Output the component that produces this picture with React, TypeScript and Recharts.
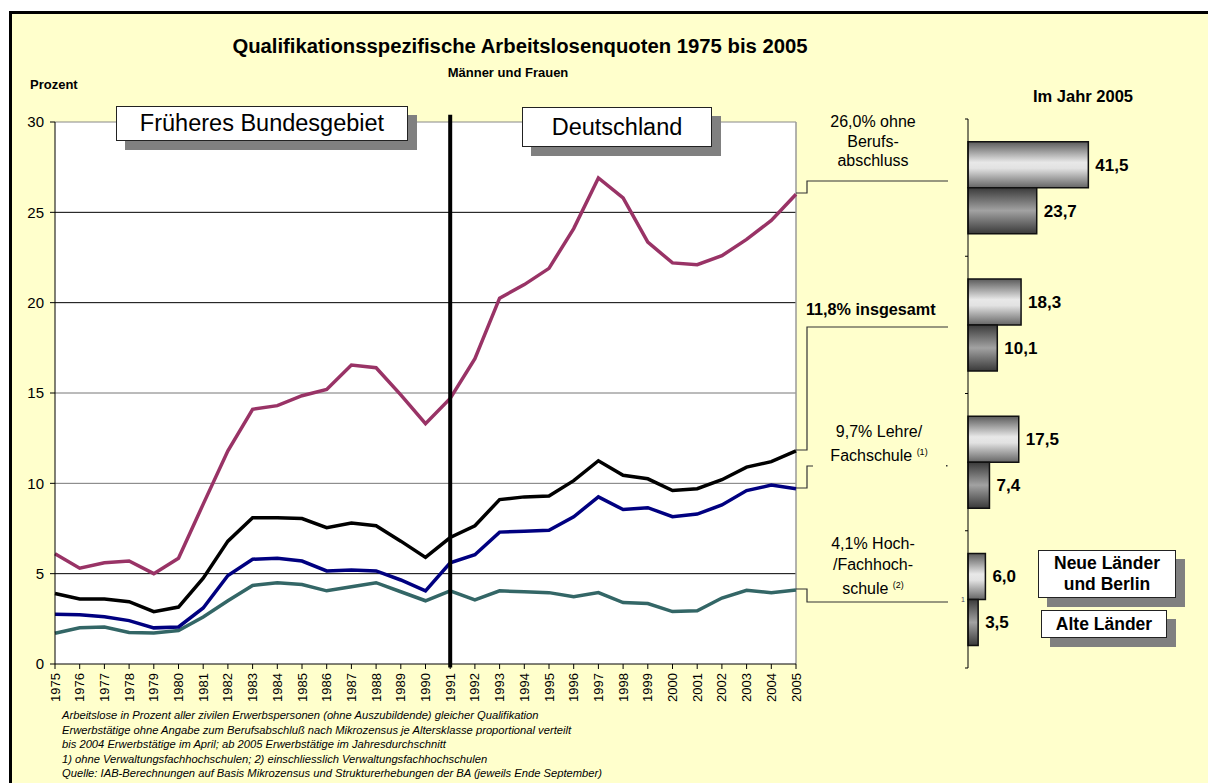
import React from "react";
import {
  LineChart,
  Line,
  XAxis,
  YAxis,
  ReferenceLine,
  ReferenceArea,
  BarChart,
  Bar,
  LabelList,
} from "recharts";

const years = [
  1975, 1976, 1977, 1978, 1979, 1980, 1981, 1982, 1983, 1984, 1985, 1986, 1987, 1988, 1989, 1990,
  1991, 1992, 1993, 1994, 1995, 1996, 1997, 1998, 1999, 2000, 2001, 2002, 2003, 2004, 2005,
];
const ohneAbschluss = [
  6.1, 5.3, 5.6, 5.7, 5.0, 5.85, 8.85, 11.8, 14.1, 14.3, 14.85, 15.2, 16.55, 16.4, 14.9, 13.3,
  14.7, 16.9, 20.25, 21.0, 21.9, 24.1, 26.9, 25.8, 23.35, 22.2, 22.1, 22.6, 23.5, 24.55, 26.0,
];
const insgesamt = [
  3.9, 3.6, 3.6, 3.45, 2.9, 3.15, 4.75, 6.8, 8.1, 8.1, 8.05, 7.55, 7.8, 7.65, 6.8, 5.9,
  7.0, 7.65, 9.1, 9.25, 9.3, 10.15, 11.25, 10.45, 10.25, 9.6, 9.7, 10.2, 10.9, 11.2, 11.8,
];
const lehreFachschule = [
  2.75, 2.72, 2.62, 2.4, 2.0, 2.05, 3.1, 4.9, 5.8, 5.85, 5.7, 5.15, 5.2, 5.15, 4.65, 4.05,
  5.6, 6.05, 7.3, 7.35, 7.4, 8.15, 9.25, 8.55, 8.65, 8.15, 8.3, 8.8, 9.6, 9.9, 9.7,
];
const hochschule = [
  1.7, 2.0, 2.05, 1.75, 1.72, 1.85, 2.6, 3.5, 4.35, 4.5, 4.4, 4.05, 4.28, 4.5, 4.0, 3.5,
  4.05, 3.55, 4.05, 4.0, 3.95, 3.72, 3.95, 3.4, 3.35, 2.9, 2.95, 3.65, 4.08, 3.95, 4.1,
];
const yTicks = [0, 5, 10, 15, 20, 25, 30];

const barGroups = ["ohne Berufsabschluss", "insgesamt", "Lehre/Fachschule", "Hoch-/Fachhochschule"];
const neueLaender = [41.5, 18.3, 17.5, 6.0];
const alteLaender = [23.7, 10.1, 7.4, 3.5];

const footnotes = [
  "Arbeitslose in Prozent aller zivilen Erwerbspersonen (ohne Auszubildende) gleicher Qualifikation",
  "Erwerbstätige ohne Angabe zum Berufsabschluß nach Mikrozensus je Altersklasse proportional verteilt",
  "bis 2004 Erwerbstätige im April; ab 2005 Erwerbstätige im Jahresdurchschnitt",
  "1) ohne Verwaltungsfachhochschulen; 2) einschliesslich Verwaltungsfachhochschulen",
  "Quelle: IAB-Berechnungen auf Basis Mikrozensus und Strukturerhebungen der BA (jeweils Ende September)",
];

const arial = "Arial, 'Liberation Sans', sans-serif";
const narrow = "'Liberation Sans Narrow', 'Arial Narrow', Arial, sans-serif";

const lineData = years.map((year, i) => ({
  year,
  ohne: ohneAbschluss[i],
  gesamt: insgesamt[i],
  lehre: lehreFachschule[i],
  hoch: hochschule[i],
}));

const barData = barGroups.map((group, i) => ({
  group,
  neu: neueLaender[i],
  alt: alteLaender[i],
}));

const fmt = (v: any) => Number(v).toFixed(1).replace(".", ",");

const gridColor: Record<number, string> = {
  5: "#000",
  10: "#777",
  15: "#777",
  20: "#000",
  25: "#000",
  30: "#888",
};

function YearTick(props: any) {
  const { x, y, payload } = props;
  return (
    <g transform={`translate(${x},${y})`}>
      <text
        transform="rotate(-90)"
        textAnchor="end"
        dy={4.5}
        fontSize={13}
        fontFamily={arial}
        fill="#000"
      >
        {payload.value}
      </text>
    </g>
  );
}

const BAR_PLOT_H = 549;

function BoundaryTick(props: any) {
  const { y, index } = props;
  const half = BAR_PLOT_H / barGroups.length / 2;
  const ax = 68;
  return (
    <g>
      <line x1={ax - 3} x2={ax} y1={y - half} y2={y - half} stroke="#000" />
      {index === barGroups.length - 1 && (
        <line x1={ax - 3} x2={ax} y1={y + half} y2={y + half} stroke="#000" />
      )}
    </g>
  );
}

function ShadowBox({ left, top, w, h, children, font, size, weight }: any) {
  return (
    <>
      <div
        style={{
          position: "absolute",
          left: left + 9,
          top: top + 9,
          width: w,
          height: h,
          background: "#808080",
        }}
      />
      <div
        style={{
          position: "absolute",
          left,
          top,
          width: w,
          height: h,
          boxSizing: "border-box",
          background: "#fff",
          border: "1.5px solid #222",
          display: "flex",
          alignItems: "center",
          justifyContent: "center",
          textAlign: "center",
          fontFamily: font,
          fontSize: size,
          fontWeight: weight,
          lineHeight: 1.2,
          color: "#000",
        }}
      >
        {children}
      </div>
    </>
  );
}

function Txt({ left, top, width, children, style }: any) {
  return (
    <div
      style={{
        position: "absolute",
        left,
        top,
        width,
        textAlign: "center",
        whiteSpace: "nowrap",
        color: "#000",
        ...style,
      }}
    >
      {children}
    </div>
  );
}

export default function App() {
  return (
    <div
      style={{
        position: "absolute",
        left: 0,
        top: 0,
        width: 1208,
        height: 783,
        overflow: "hidden",
        background: "#fff",
      }}
    >
      <div
        style={{
          position: "absolute",
          left: 9,
          top: 11,
          width: 1220,
          height: 800,
          background: "#FFFFCC",
          borderLeft: "3px solid #000",
          borderTop: "3px solid #000",
        }}
      />

      <Txt left={150} top={35} width={740} style={{ fontFamily: narrow, fontWeight: 700, fontSize: 20.3 }}>
        Qualifikationsspezifische Arbeitslosenquoten 1975 bis 2005
      </Txt>
      <Txt left={400} top={65} width={216} style={{ fontFamily: narrow, fontWeight: 700, fontSize: 13 }}>
        Männer und Frauen
      </Txt>
      <div style={{ position: "absolute", left: 30, top: 77, fontFamily: narrow, fontWeight: 700, fontSize: 13 }}>
        Prozent
      </div>
      <Txt left={1000} top={87} width={166} style={{ fontFamily: narrow, fontWeight: 700, fontSize: 16.5 }}>
        Im Jahr 2005
      </Txt>

      <div style={{ position: "absolute", left: 0, top: 0 }}>
        <LineChart
          width={820}
          height={783}
          data={lineData}
          margin={{ top: 122, right: 24, bottom: 69, left: 10 }}
        >
          <ReferenceArea x1={1975} x2={2005} y1={0} y2={30} fill="#fff" fillOpacity={1} stroke="none" />
          {yTicks.filter((v) => v > 0).map((v) => (
            <ReferenceLine key={v} y={v} stroke={gridColor[v]} strokeWidth={1} />
          ))}
          <ReferenceLine x={2005} stroke="#999" strokeWidth={1.5} />
          <XAxis
            type="number"
            dataKey="year"
            domain={[1975, 2005]}
            ticks={years}
            interval={0}
            height={50}
            tick={<YearTick />}
            tickSize={5}
            tickMargin={4}
            axisLine={{ stroke: "#000" }}
            tickLine={{ stroke: "#000" }}
          />
          <YAxis
            type="number"
            domain={[0, 30]}
            ticks={yTicks}
            width={45}
            tickSize={5}
            tickMargin={6}
            axisLine={{ stroke: "#000" }}
            tickLine={{ stroke: "#000" }}
            tick={{ fill: "#000", fontSize: 15, fontFamily: arial }}
          />
          <Line type="linear" dataKey="hoch" stroke="#336666" strokeWidth={3.5} dot={false} isAnimationActive={false} />
          <Line type="linear" dataKey="lehre" stroke="#000080" strokeWidth={3.5} dot={false} isAnimationActive={false} />
          <Line type="linear" dataKey="gesamt" stroke="#000" strokeWidth={3.5} dot={false} isAnimationActive={false} />
          <Line type="linear" dataKey="ohne" stroke="#993366" strokeWidth={3.5} dot={false} isAnimationActive={false} />
          <ReferenceLine
            segment={[
              { x: 1991, y: 30.4 },
              { x: 1991, y: -0.2 },
            ]}
            ifOverflow="visible"
            stroke="#000"
            strokeWidth={4}
          />
        </LineChart>
      </div>

      <ShadowBox left={116} top={106} w={292} h={35} font={arial} size={23.5} weight={400}>
        Früheres Bundesgebiet
      </ShadowBox>
      <ShadowBox left={522} top={107} w={190} h={40} font={arial} size={23.5} weight={400}>
        Deutschland
      </ShadowBox>

      <svg
        width={1208}
        height={783}
        style={{ position: "absolute", left: 0, top: 0, pointerEvents: "none" }}
      >
        <g fill="none" stroke="#333" strokeWidth={1.2}>
          <path d="M796 193 H807 V181 H948" />
          <path d="M796 450 H807 V327 H948" />
          <path d="M796 488 H807 V466 H813" />
          <path d="M796 589 H807 V602 H948" />
        </g>
        <rect x={946} y={465} width={1.5} height={1.5} fill="#333" />
        <text x={961} y={602} fontSize={7} fill="#446" fontFamily={arial}>1</text>
      </svg>

      <Txt left={813} top={112} width={120} style={{ fontFamily: arial, fontSize: 16, lineHeight: "19.5px" }}>
        26,0% ohne
        <br />
        Berufs-
        <br />
        abschluss
      </Txt>
      <div
        style={{
          position: "absolute",
          left: 806,
          top: 300,
          fontFamily: arial,
          fontWeight: 700,
          fontSize: 16.2,
          whiteSpace: "nowrap",
        }}
      >
        11,8% insgesamt
      </div>
      <Txt left={820} top={421} width={118} style={{ fontFamily: arial, fontSize: 16, lineHeight: "21px" }}>
        9,7% Lehre/
        <br />
        Fachschule <sup style={{ fontSize: 9 }}>(1)</sup>
      </Txt>
      <Txt left={821} top={534} width={104} style={{ fontFamily: arial, fontSize: 16, lineHeight: "20.5px" }}>
        4,1% Hoch-
        <br />
        /Fachhoch-
        <br />
        schule <sup style={{ fontSize: 9 }}>(2)</sup>
      </Txt>

      <div style={{ position: "absolute", left: 900, top: 100 }}>
        <BarChart
          width={300}
          height={600}
          data={barData}
          layout="vertical"
          margin={{ top: 19, right: 0, bottom: 32, left: 0 }}
          barCategoryGap="16.5%"
          barGap={0}
        >
          <defs>
            <linearGradient id="gradNeu" x1="0" y1="0" x2="0" y2="1">
              <stop offset="0%" stopColor="#5a5a5a" />
              <stop offset="45%" stopColor="#e8e8e8" />
              <stop offset="58%" stopColor="#e2e2e2" />
              <stop offset="100%" stopColor="#666" />
            </linearGradient>
            <linearGradient id="gradAlt" x1="0" y1="0" x2="0" y2="1">
              <stop offset="0%" stopColor="#3a3a3a" />
              <stop offset="50%" stopColor="#a2a2a2" />
              <stop offset="100%" stopColor="#3a3a3a" />
            </linearGradient>
          </defs>
          <XAxis type="number" hide domain={[0, 80]} />
          <YAxis
            type="category"
            dataKey="group"
            width={68}
            axisLine={{ stroke: "#000" }}
            tickLine={false}
            tick={<BoundaryTick />}
          />
          <Bar dataKey="neu" fill="url(#gradNeu)" stroke="#111" strokeWidth={1.5} isAnimationActive={false}>
            <LabelList
              dataKey="neu"
              position="right"
              offset={7}
              formatter={fmt}
              style={{ fontFamily: arial, fontWeight: 700, fontSize: 17, fill: "#000" }}
            />
          </Bar>
          <Bar dataKey="alt" fill="url(#gradAlt)" stroke="#111" strokeWidth={1.5} isAnimationActive={false}>
            <LabelList
              dataKey="alt"
              position="right"
              offset={7}
              formatter={fmt}
              style={{ fontFamily: arial, fontWeight: 700, fontSize: 17, fill: "#000" }}
            />
          </Bar>
        </BarChart>
      </div>

      <ShadowBox left={1038} top={550} w={138} h={48} font={arial} size={17.5} weight={700}>
        Neue Länder
        <br />
        und Berlin
      </ShadowBox>
      <ShadowBox left={1041} top={610} w={126} h={28} font={arial} size={17.5} weight={700}>
        Alte Länder
      </ShadowBox>

      {footnotes.map((line, i) => (
        <div
          key={i}
          style={{
            position: "absolute",
            left: 62,
            top: 709 + i * 14.6,
            fontFamily: narrow,
            fontStyle: "italic",
            fontSize: 11.2,
            whiteSpace: "nowrap",
            color: "#000",
          }}
        >
          {line}
        </div>
      ))}
    </div>
  );
}
